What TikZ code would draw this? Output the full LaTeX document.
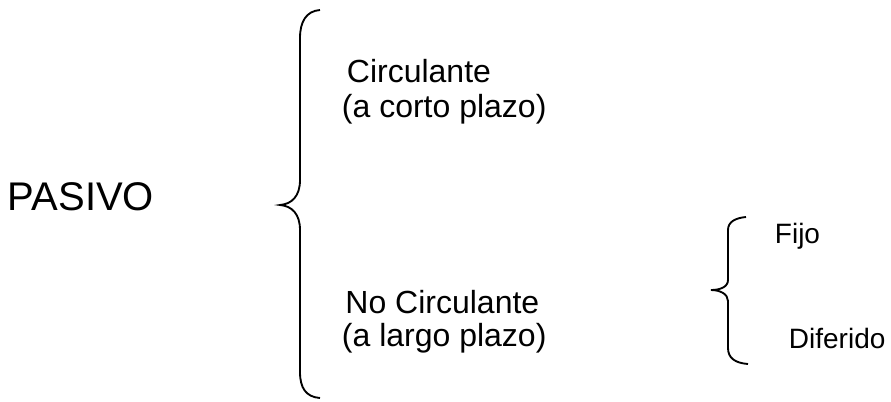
\documentclass[tikz,border=0pt]{standalone}
\usepackage{fontspec}
\setmainfont{Liberation Sans}
\usepackage{tikz}
\usetikzlibrary{arrows.meta}

\begin{document}
\begin{tikzpicture}[x=0.75pt,y=-0.75pt,line width=1.4pt,
  txt/.style={inner sep=0pt,anchor=base west},
  big/.style={txt,font=\fontsize{30}{36}\selectfont},
  mid/.style={txt,font=\fontsize{24}{28}\selectfont},
  small/.style={txt,font=\fontsize{21}{25}\selectfont}]
\useasboundingbox(0,0)rectangle(891,401);
\node[big](pasivo)at(7,210){PASIVO};
%% circulante
\node[mid](circ)at(346,82){Circulante};
\node[mid](circplazo)at(341,117){(a corto plazo)};
%% no circulante
\node[mid](nocirc)at(344.5,313){No Circulante};
\node[mid](nocircplazo)at(341,346){(a largo plazo)};
%% fijo / diferido
\node[small](fijo)at(774,243){Fijo};
\node[small](diferido)at(788,348){Diferido};
%% braces
\draw(320,10)..controls(306,11)and(300,22)..(300,38)--(300,180)
..controls(300,196)and(292,204)..(280,205)
..controls(292,206)and(300,214)..(300,230)--(300,372)
..controls(300,388)and(306,397)..(320,398);
\draw(746,217)..controls(735,218)and(728,222)..(728,230)--(728,280)
..controls(728,287)and(720,290)..(711,290)
..controls(720,290)and(728,294)..(728,301)--(728,348)
..controls(728,358)and(735,363)..(748,364);
\end{tikzpicture}
\end{document}
